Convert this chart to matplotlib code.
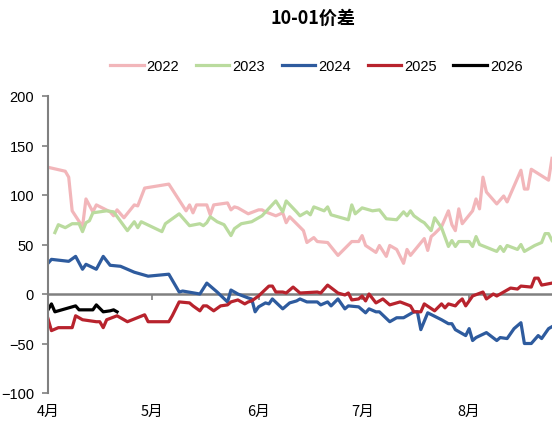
import matplotlib
matplotlib.use('Agg')
import matplotlib.pyplot as plt
import matplotlib.transforms as mtransforms
from matplotlib.ticker import NullFormatter
import pandas as pd

# 10-01 spread by year (Apr - Aug), dates as MM-DD
dates_2022 = ['04-01', '04-06', '04-07', '04-08', '04-11', '04-12', '04-14', '04-15', '04-19', '04-20',
              '04-21', '04-23', '04-26', '04-27', '04-29', '05-06', '05-11', '05-12', '05-13', '05-14',
              '05-17', '05-18', '05-19', '05-23', '05-24', '05-25', '05-26', '05-29', '06-01', '06-02',
              '06-03', '06-06', '06-08', '06-09', '06-10', '06-14', '06-15', '06-17', '06-18', '06-21',
              '06-24', '06-28', '06-30', '07-01', '07-02', '07-05', '07-06', '07-08', '07-09', '07-11',
              '07-13', '07-14', '07-15', '07-19', '07-20', '07-21', '07-22', '07-24', '07-26', '07-27',
              '07-28', '07-29', '07-30', '08-02', '08-03', '08-04', '08-05', '08-06', '08-09', '08-11',
              '08-12', '08-16', '08-17', '08-18', '08-19', '08-24', '08-25']
vals_2022 = [128, 124, 118, 84, 68, 96, 83, 90, 83, 79,
             85, 77, 90, 89, 107, 111, 84, 90, 82, 90,
             90, 80, 90, 92, 85, 88, 87, 81, 85, 85,
             83, 79, 82, 72, 78, 64, 52, 57, 53, 52,
             39, 53, 53, 59, 49, 42, 49, 38, 49, 45,
             31, 45, 39, 56, 44, 58, 61, 68, 84, 70,
             64, 86, 71, 84, 96, 86, 118, 103, 91, 99,
             93, 125, 106, 106, 126, 115, 137]

dates_2023 = ['04-03', '04-04', '04-06', '04-08', '04-10', '04-11', '04-12', '04-13', '04-14', '04-18',
              '04-20', '04-24', '04-26', '04-27', '04-28', '05-04', '05-05', '05-09', '05-12', '05-15',
              '05-16', '05-17', '05-18', '05-20', '05-22', '05-24', '05-25', '05-27', '05-30', '06-02',
              '06-06', '06-08', '06-09', '06-12', '06-13', '06-15', '06-16', '06-17', '06-20', '06-21',
              '06-22', '06-27', '06-28', '06-29', '07-01', '07-04', '07-06', '07-08', '07-11', '07-13',
              '07-14', '07-15', '07-16', '07-18', '07-19', '07-21', '07-22', '07-24', '07-26', '07-27',
              '07-28', '07-29', '08-01', '08-02', '08-03', '08-04', '08-09', '08-10', '08-11', '08-12',
              '08-15', '08-16', '08-17', '08-20', '08-22', '08-23', '08-24', '08-25']
vals_2023 = [62, 70, 67, 71, 71, 63, 72, 74, 82, 84,
             83, 64, 73, 67, 73, 63, 71, 81, 69, 71,
             69, 72, 78, 73, 70, 59, 66, 71, 73, 79,
             94, 83, 94, 83, 79, 83, 80, 88, 84, 88,
             80, 75, 90, 81, 87, 84, 85, 76, 75, 83,
             79, 84, 79, 74, 72, 64, 77, 67, 48, 54,
             48, 53, 53, 48, 58, 50, 43, 48, 43, 49,
             45, 50, 43, 49, 52, 61, 61, 54]

dates_2024 = ['04-01', '04-02', '04-07', '04-09', '04-11', '04-12', '04-15', '04-17', '04-19', '04-22',
              '04-26', '04-30', '05-06', '05-07', '05-09', '05-10', '05-15', '05-17', '05-20', '05-23',
              '05-24', '05-26', '05-29', '05-30', '05-31', '06-01', '06-03', '06-04', '06-05', '06-08',
              '06-10', '06-12', '06-13', '06-15', '06-18', '06-19', '06-21', '06-22', '06-24', '06-26',
              '06-27', '06-30', '07-02', '07-03', '07-05', '07-06', '07-09', '07-11', '07-13', '07-16',
              '07-17', '07-18', '07-20', '07-24', '07-26', '07-27', '07-28', '07-31', '08-01', '08-02',
              '08-03', '08-06', '08-09', '08-10', '08-12', '08-14', '08-16', '08-17', '08-19', '08-21',
              '08-22', '08-24', '08-25']
vals_2024 = [31, 35, 33, 38, 25, 30, 25, 38, 29, 28,
             22, 18, 20, 14, 2, 3, 0, 11, 2, -8,
             4, 0, -4, -5, -18, -13, -9, -10, -5, -15,
             -9, -7, -5, -8, -8, -11, -8, -12, -5, -15,
             -12, -13, -19, -15, -18, -18, -28, -24, -24, -18,
             -18, -36, -19, -26, -30, -30, -36, -42, -35, -47,
             -44, -39, -47, -44, -45, -35, -29, -50, -50, -42,
             -45, -35, -33]

dates_2025 = ['04-01', '04-02', '04-04', '04-08', '04-09', '04-11', '04-15', '04-16', '04-17', '04-18',
              '04-21', '04-23', '04-24', '04-29', '04-30', '05-06', '05-07', '05-09', '05-12', '05-13',
              '05-15', '05-16', '05-17', '05-19', '05-21', '05-23', '05-24', '05-26', '05-28', '05-29',
              '05-30', '06-01', '06-04', '06-05', '06-06', '06-08', '06-09', '06-11', '06-13', '06-18',
              '06-19', '06-21', '06-24', '06-26', '06-27', '06-28', '06-30', '07-01', '07-02', '07-03',
              '07-05', '07-07', '07-09', '07-12', '07-15', '07-16', '07-18', '07-19', '07-22', '07-24',
              '07-25', '07-26', '07-28', '07-29', '07-30', '07-31', '08-02', '08-05', '08-06', '08-08',
              '08-09', '08-11', '08-13', '08-15', '08-16', '08-19', '08-20', '08-21', '08-22', '08-25']
vals_2025 = [-25, -37, -34, -34, -22, -26, -28, -28, -34, -26,
             -22, -26, -28, -21, -28, -28, -22, -8, -9, -12,
             -17, -12, -12, -17, -12, -11, -8, -6, -10, -8,
             -7, -2, 8, 8, 2, 2, 1, 7, 1, 2,
             1, 9, 1, -1, 1, -6, -5, -2, -7, 0,
             -9, -5, -11, -8, -12, -18, -18, -10, -17, -10,
             -14, -10, -12, -8, -5, -12, -2, 2, -5, 0,
             -2, 2, 6, 5, 8, 7, 16, 16, 9, 11]

dates_2026 = ['04-01', '04-02', '04-03', '04-09', '04-10', '04-14', '04-15', '04-17', '04-19', '04-20', '04-21']
vals_2026 = [-16, -10, -18, -12, -16, -16, -11, -18, -17, -16, -18]

years = ['2022', '2023', '2024', '2025', '2026']
colors = ['#F2B6BA', '#BADB9E', '#2E5B9E', '#B8232D', '#000000']

month_ticks = ['04-01', '05-01', '06-01', '07-01', '08-01']
month_labels = ['4月', '5月', '6月', '7月', '8月']


def to_dt(mmdd):
    return pd.to_datetime(['2001-' + d for d in mmdd])


series = [(dates_2022, vals_2022), (dates_2023, vals_2023), (dates_2024, vals_2024),
          (dates_2025, vals_2025), (dates_2026, vals_2026)]

# Figure
fig = plt.figure(figsize=(5.52, 4.27), dpi=100)
ax = fig.add_axes([48 / 552, 33 / 427, 1 - 48 / 552, 297 / 427])

for (d, v), year, c in zip(series, years, colors):
    ax.plot(to_dt(d), v, color=c, lw=2.3, label=year, zorder=2)

ax.set_ylim(-100, 200)
ax.set_yticks([-100, -50, 0, 50, 100, 150, 200])
ax.set_xlim(pd.Timestamp('2001-04-01'), pd.Timestamp('2001-08-25'))

# axes: left spine gray, x axis drawn along zero line
for s in ['top', 'right']:
    ax.spines[s].set_visible(False)
ax.spines['left'].set_color('#808080')
ax.spines['left'].set_linewidth(1.5)
ax.spines['bottom'].set_position(('data', 0))
ax.spines['bottom'].set_color('#808080')
ax.spines['bottom'].set_linewidth(1.8)
ax.spines['bottom'].set_zorder(1)

ax.tick_params(axis='y', direction='out', length=4, width=1.2, color='#808080', pad=6,
               labelsize=10.5, labelcolor='black')
for lab in ax.get_yticklabels():
    lab.set_family(['Liberation Sans', 'DejaVu Sans'])

ax.set_xticks(to_dt(month_ticks))
ax.xaxis.set_major_formatter(NullFormatter())
ax.tick_params(axis='x', direction='out', length=4, width=1.2, color='#808080')

# month labels sit below the plot, not on the zero line
trans = mtransforms.blended_transform_factory(ax.transData, ax.transAxes)
for t, lab in zip(to_dt(month_ticks), month_labels):
    ax.text(t, -0.062, lab, transform=trans, ha='center', va='center', fontsize=10.5,
            family=['Noto Sans CJK SC', 'DejaVu Sans'])

# Title and legend
fig.text(0.567, 0.958, '10-01价差', ha='center', va='center', fontsize=13, fontweight='bold',
         family=['Noto Sans CJK SC', 'DejaVu Sans'])
fig.legend(loc='center', bbox_to_anchor=(0.573, 0.843), ncol=5, frameon=False,
           handlelength=2.3, handletextpad=0.2, columnspacing=1.15,
           prop={'family': ['Liberation Sans', 'DejaVu Sans'], 'size': 10.5})

fig.savefig('out.png', dpi=100)
